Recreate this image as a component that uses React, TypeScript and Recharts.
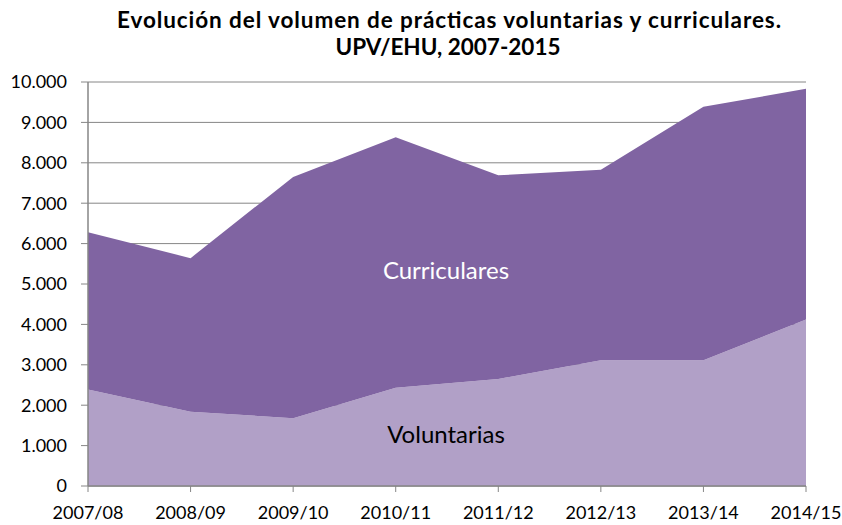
import React from 'react';
import { AreaChart, Area, XAxis, YAxis, CartesianGrid } from 'recharts';

const categories = ['2007/08', '2008/09', '2009/10', '2010/11', '2011/12', '2012/13', '2013/14', '2014/15'];
const voluntarias = [2390, 1840, 1680, 2430, 2650, 3110, 3110, 4120];
const curriculares = [3890, 3800, 5970, 6200, 5040, 4720, 6280, 5710];
const yTicks = [0, 1000, 2000, 3000, 4000, 5000, 6000, 7000, 8000, 9000, 10000];

const titleLines = ['Evolución del volumen de prácticas voluntarias y curriculares.', 'UPV/EHU, 2007-2015'];
const seriesNames = { vol: 'Voluntarias', cur: 'Curriculares' };

const data = categories.map((c, i) => ({ cat: c, vol: voluntarias[i], cur: curriculares[i] }));

const FONT = 'Lato, "Open Sans", sans-serif';
const fmt = (v: number) => String(v).replace(/\B(?=(\d{3})+(?!\d))/g, '.');

export default function App() {
  return (
    <div style={{ position: 'absolute', left: 0, top: 0, width: 842, height: 525, background: '#fff', fontFamily: FONT }}>
      <AreaChart width={842} height={525} data={data} margin={{ top: 82, right: 36, bottom: 0, left: 0 }}>
        <CartesianGrid vertical={false} stroke="#868686" strokeWidth={1} />
        <XAxis
          dataKey="cat"
          height={39}
          tickSize={6}
          tickMargin={14}
          axisLine={{ stroke: '#868686', strokeWidth: 1.5 }}
          tickLine={{ stroke: '#868686' }}
          tick={{ fill: '#000', fontSize: 18, fontFamily: FONT }}
          interval={0}
        />
        <YAxis
          width={88}
          domain={[0, 10000]}
          ticks={yTicks}
          tickFormatter={fmt}
          tickSize={7}
          tickMargin={14}
          axisLine={{ stroke: '#868686', strokeWidth: 1.5 }}
          tickLine={{ stroke: '#868686' }}
          tick={{ fill: '#000', fontSize: 18, fontFamily: FONT }}
          interval={0}
        />
        <Area type="linear" dataKey="vol" name={seriesNames.vol} stackId="1" stroke="none" fill="#B1A0C7" fillOpacity={1} isAnimationActive={false} />
        <Area type="linear" dataKey="cur" name={seriesNames.cur} stackId="1" stroke="none" fill="#8064A2" fillOpacity={1} isAnimationActive={false} />
      </AreaChart>
      <svg width={842} height={525} style={{ position: 'absolute', left: 0, top: 0, pointerEvents: 'none' }}>
        <text x={449} y={28} textAnchor="middle" fontFamily={FONT} fontWeight={700} fontSize={22.5} fill="#000" textLength={664} lengthAdjust="spacing">{titleLines[0]}</text>
        <text x={448} y={55} textAnchor="middle" fontFamily={FONT} fontWeight={700} fontSize={22.5} fill="#000">{titleLines[1]}</text>
        <text x={446} y={279} textAnchor="middle" fontFamily={FONT} fontSize={24} fill="#fff">{seriesNames.cur}</text>
        <text x={446} y={443} textAnchor="middle" fontFamily={FONT} fontSize={24} fill="#000">{seriesNames.vol}</text>
      </svg>
    </div>
  );
}
